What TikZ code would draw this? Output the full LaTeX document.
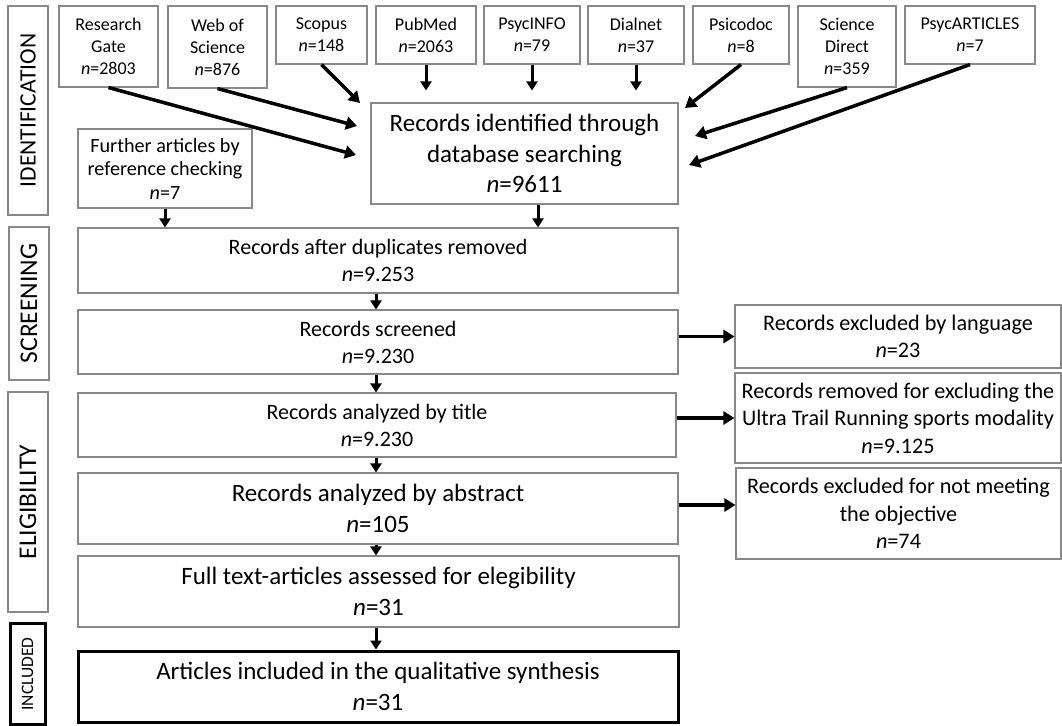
\documentclass[tikz,border=0pt]{standalone}
\usepackage{fontspec}
\setmainfont{Carlito}
\usetikzlibrary{arrows.meta,calc}
\definecolor{boxgray}{HTML}{888888}
\tikzset{
  box/.style={draw=boxgray, line width=1.1pt, inner sep=0pt, align=center, fill=white},
  thickbox/.style={draw=black, line width=3pt, inner sep=0pt, align=center, fill=white},
  ftop/.style={font=\fontsize{18}{22}\selectfont},
  ffur/.style={font=\fontsize{20.2}{23.5}\selectfont},
  fbig/.style={font=\fontsize{25}{30.5}\selectfont},
  fmid/.style={font=\fontsize{22}{27}\selectfont},
  fright/.style={font=\fontsize{22.2}{27.5}\selectfont},
  flabid/.style={font=\fontsize{23.5}{26}\selectfont},
  flab/.style={font=\fontsize{25.5}{28}\selectfont},
  fsmall/.style={font=\fontsize{17.5}{20}\selectfont},
  bigarr/.style={line width=3.5pt, -{Triangle[length=11pt,width=13pt]}},
  downarr/.style={line width=3pt, -{Triangle[length=9pt,width=11pt]}},
}
\begin{document}
\begin{tikzpicture}[x=1pt,y=-1pt]
\useasboundingbox (0,0) rectangle (1062,725);
% phase labels
\node[box, flabid, rotate=90, minimum width=209pt, minimum height=40pt] (idlab) at (28,110.5) {IDENTIFICATION};
\node[box, flab, rotate=90, minimum width=153pt, minimum height=40pt] (scrlab) at (29,303.5) {SCREENING};
\node[box, flab, rotate=90, minimum width=220pt, minimum height=40pt] (elilab) at (28,502) {ELIGIBILITY};
\node[thickbox, fsmall, rotate=90, minimum width=101pt, minimum height=35pt] (inclab) at (27.5,674) {INCLUDED};
% databases
\node[box, ftop, minimum width=99pt, minimum height=81pt] (rg) at (108.5,46.5) {Research\\Gate\\\textit{n}=2803};
\node[box, ftop, minimum width=99pt, minimum height=82pt] (wos) at (217.5,47) {Web of\\Science\\\textit{n}=876};
\node[box, ftop, minimum width=91pt, minimum height=58pt] (scopus) at (321.5,35) {Scopus\\\textit{n}=148};
\node[box, ftop, minimum width=100pt, minimum height=58pt] (pubmed) at (426,35) {PubMed\\\textit{n}=2063};
\node[box, ftop, minimum width=96pt, minimum height=58pt] (psycinfo) at (532,35) {PsycINFO\\\textit{n}=79};
\node[box, ftop, minimum width=96pt, minimum height=58pt] (dialnet) at (636,35) {Dialnet\\\textit{n}=37};
\node[box, ftop, minimum width=96pt, minimum height=58pt] (psicodoc) at (741,35) {Psicodoc\\\textit{n}=8};
\node[box, ftop, minimum width=98pt, minimum height=81pt] (sd) at (847,46.5) {Science\\Direct\\\textit{n}=359};
\node[box, ftop, minimum width=130pt, minimum height=58pt] (pa) at (970,35) {PsycARTICLES\\\textit{n}=7};
% identification
\node[box, ffur, minimum width=174pt, minimum height=79pt] (further) at (165,168.5) {Further articles by\\reference checking\\\textit{n}=7};
\node[box, fbig, minimum width=307pt, minimum height=101pt] (rec) at (524.5,153.5) {Records identified through\\database searching\\\textit{n}=9611};
% main column
\node[box, fmid, minimum width=600pt, minimum height=65pt] (dup) at (378,260.5) {Records after duplicates removed\\\textit{n}=9.253};
\node[box, fmid, minimum width=600pt, minimum height=64pt] (scr) at (378,342) {Records screened\\\textit{n}=9.230};
\node[box, fmid, minimum width=598pt, minimum height=64pt] (title) at (377,425) {Records analyzed by title\\\textit{n}=9.230};
\node[box, fbig, minimum width=600pt, minimum height=71pt] (abs) at (378,508.5) {Records analyzed by abstract\\\textit{n}=105};
\node[box, fbig, minimum width=601pt, minimum height=71pt] (full) at (378.5,591.5) {Full text-articles assessed for elegibility\\\textit{n}=31};
\node[thickbox, fbig, minimum width=600pt, minimum height=71pt] (incl) at (378,686.5) {Articles included in the qualitative synthesis\\\textit{n}=31};
% exclusions
\node[box, fright, minimum width=326pt, minimum height=63pt] (lang) at (898,336.5) {Records excluded by language\\\textit{n}=23};
\node[box, fright, minimum width=326pt, minimum height=90pt] (rem) at (898,418) {Records removed for excluding the\\Ultra Trail Running sports modality\\\textit{n}=9.125};
\node[box, fright, minimum width=325pt, minimum height=91pt] (obj) at (898.5,513.5) {Records excluded for not meeting\\the objective\\\textit{n}=74};
% arrow end points near the records box
\coordinate (trg) at (356,155);
\coordinate (twos) at (357,126);
\coordinate (tsco) at (360,103);
\coordinate (tpsi) at (685,108);
\coordinate (tsd) at (695,136);
\coordinate (tpa) at (689,165);
% connectors
\draw[bigarr] (rg.south) -- (trg);
\draw[bigarr] (wos.south) -- (twos);
\draw[bigarr] (scopus.south) -- (tsco);
\draw[downarr, shorten >=12pt] (pubmed.south) -- (pubmed.south |- rec.north);
\draw[downarr, shorten >=12pt] (psycinfo.south) -- (psycinfo.south |- rec.north);
\draw[downarr, shorten >=12pt] (dialnet.south) -- (dialnet.south |- rec.north);
\draw[bigarr] (psicodoc.south) -- (tpsi);
\draw[bigarr] (sd.south) -- (tsd);
\draw[bigarr] (pa.south) -- (tpa);
\draw[downarr] ([xshift=13.5pt]rec.south) -- ([xshift=13.5pt]rec.south |- dup.north);
\draw[downarr] (further.south) -- (further.south |- dup.north);
\draw[downarr] ([xshift=-2pt]dup.south) -- ([xshift=-2pt]dup.south |- scr.north);
\draw[downarr] ([xshift=-2pt]scr.south) -- ([xshift=-2pt]scr.south |- title.north);
\draw[downarr] ([xshift=-1pt]title.south) -- ([xshift=-1pt]title.south |- abs.north);
\draw[downarr] ([xshift=-2pt]abs.south) -- ([xshift=-2pt]abs.south |- full.north);
\draw[downarr] ([xshift=-2.5pt]full.south) -- ([xshift=-2.5pt]full.south |- incl.north);
\draw[bigarr] (scr.east |- lang.west) -- (lang.west);
\draw[bigarr] (title.east |- rem.west) -- (rem.west);
\draw[bigarr] ([yshift=3.5pt]abs.east) -- ([yshift=3.5pt]abs.east -| obj.west);
\end{tikzpicture}
\end{document}
